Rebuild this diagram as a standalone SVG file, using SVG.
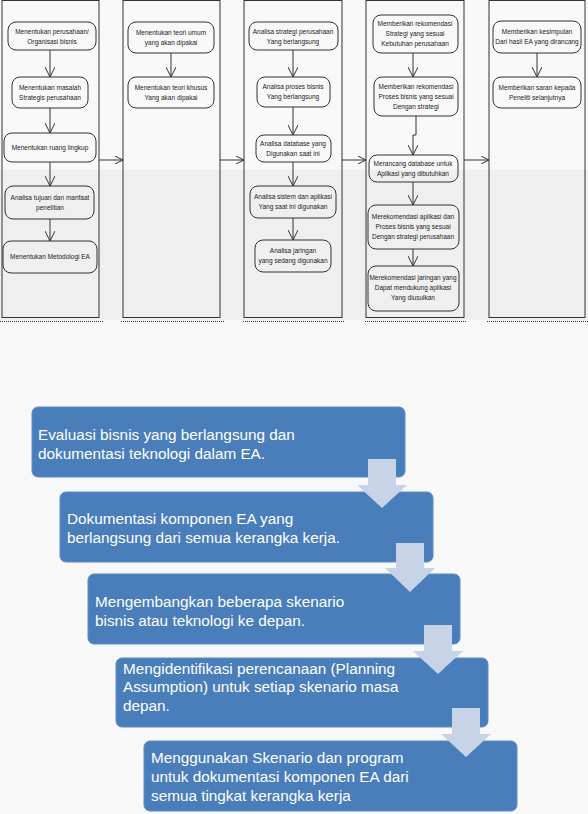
<svg xmlns="http://www.w3.org/2000/svg" width="588" height="814" viewBox="0 0 588 814">
<defs>
<style>
.lane{fill:none;stroke:#333;stroke-width:1}
.dot{stroke:#333;stroke-width:1;stroke-dasharray:1 1;fill:none}
.node{fill:none;stroke:#333;stroke-width:1}
.t{font-family:"Liberation Sans",Arial,sans-serif;font-size:6.5px;fill:#222;text-anchor:middle}
.c{stroke:#333;stroke-width:1;fill:none}
.box{fill:#4a7ebb;stroke:#5a8cc8;stroke-width:1}
.bt{font-family:"Liberation Sans",Arial,sans-serif;font-size:15.3px;fill:#ffffff}
.ar{fill:#c7d3e6;stroke:none}
</style>
<marker id="v" viewBox="0 0 10 10" markerUnits="userSpaceOnUse" markerWidth="10" markerHeight="10" refX="10" refY="5" orient="auto"><path d="M0,0 L10,5 L0,10" fill="none" stroke="#333" stroke-width="1"/></marker>
<marker id="h" viewBox="0 0 8 8" markerUnits="userSpaceOnUse" markerWidth="8" markerHeight="8" refX="8" refY="4" orient="auto"><path d="M0,0 L8,4 L0,8" fill="none" stroke="#333" stroke-width="1"/></marker>
</defs>
<rect x="0" y="0" width="588" height="814" fill="#f8f8f8"/>
<rect x="0" y="170" width="588" height="150" fill="#efefef"/>

<g id="lanes">
<rect class="lane" x="2" y="0.5" width="97" height="317"/>
<rect class="lane" x="123" y="0.5" width="97" height="317"/>
<rect class="lane" x="244" y="0.5" width="98" height="317"/>
<rect class="lane" x="366" y="0.5" width="98" height="317"/>
<rect class="lane" x="489" y="0.5" width="96" height="317"/>
<path class="dot" d="M0,321.5 H104 M121,321.5 H224 M243,321.5 H345 M365,321.5 H467 M487,321.5 H588"/>
</g>

<g id="lane1">
<g id="n1a"><rect class="node" x="8" y="22" width="88" height="28" rx="8"/><text class="t" x="52" y="34">Menentukan perusahaan/</text><text class="t" x="52" y="44">Organisasi bisnis</text></g>
<g id="n1b"><rect class="node" x="12" y="77" width="76" height="31" rx="8"/><text class="t" x="50" y="90">Menentukan masalah</text><text class="t" x="50" y="100">Strategis perusahaan</text></g>
<g id="n1c"><rect class="node" x="4" y="133" width="92" height="29" rx="8"/><text class="t" x="50" y="150">Menentukan ruang lingkup</text></g>
<g id="n1d"><rect class="node" x="5" y="186" width="89" height="33" rx="8"/><text class="t" x="50" y="200">Analisa tujuan dan manfaat</text><text class="t" x="50" y="210">penelitian</text></g>
<g id="n1e"><rect class="node" x="3" y="241" width="94" height="32" rx="8"/><text class="t" x="50" y="259">Menentukan Metodologi EA</text></g>
</g>

<g id="lane2">
<g id="n2a"><rect class="node" x="128" y="22" width="86" height="31" rx="8"/><text class="t" x="171" y="35">Menentukan teori umum</text><text class="t" x="171" y="45">yang akan dipakai</text></g>
<g id="n2b"><rect class="node" x="128" y="77" width="86" height="31" rx="8"/><text class="t" x="171" y="90">Menentukan teori khusus</text><text class="t" x="171" y="100">Yang akan dipakai</text></g>
</g>

<g id="lane3">
<g id="n3a"><rect class="node" x="249" y="22" width="89" height="28" rx="8"/><text class="t" x="293" y="34">Analisa strategi perusahaan</text><text class="t" x="293" y="44">Yang berlangsung</text></g>
<g id="n3b"><rect class="node" x="257" y="77" width="73" height="30" rx="8"/><text class="t" x="293" y="89">Analisa proses bisnis</text><text class="t" x="293" y="99">Yang berlangsung</text></g>
<g id="n3c"><rect class="node" x="256" y="135" width="75" height="27" rx="8"/><text class="t" x="293" y="146">Analisa database yang</text><text class="t" x="293" y="156">Digunakan saat ini</text></g>
<g id="n3d"><rect class="node" x="250" y="186" width="86" height="32" rx="8"/><text class="t" x="293" y="199">Analisa sistem dan aplikasi</text><text class="t" x="293" y="209">Yang saat ini digunakan</text></g>
<g id="n3e"><rect class="node" x="255" y="240" width="76" height="32" rx="8"/><text class="t" x="293" y="253">Analisa jaringan</text><text class="t" x="293" y="263">yang sedang digunakan</text></g>
</g>

<g id="lane4">
<g id="n4a"><rect class="node" x="373" y="15" width="85" height="38" rx="8"/><text class="t" x="415" y="26">Memberikan rekomendasi</text><text class="t" x="415" y="36">Strategi yang sesuai</text><text class="t" x="415" y="46">Kebutuhan perusahaan</text></g>
<g id="n4b"><rect class="node" x="374" y="77" width="84" height="39" rx="8"/><text class="t" x="416" y="89">Memberikan rekomendasi</text><text class="t" x="416" y="99">Proses bisnis yang sesuai</text><text class="t" x="416" y="109">Dengan strategi</text></g>
<g id="n4c"><rect class="node" x="369" y="155" width="89" height="27" rx="8"/><text class="t" x="413" y="166">Merancang database untuk</text><text class="t" x="413" y="176">Aplikasi yang dibutuhkan</text></g>
<g id="n4d"><rect class="node" x="368" y="205" width="91" height="44" rx="8"/><text class="t" x="413" y="219">Merekomendasi aplikasi dan</text><text class="t" x="413" y="229">Proses bisnis yang sesuai</text><text class="t" x="413" y="239">Dengan strategi perusahaan</text></g>
<g id="n4e"><rect class="node" x="368" y="266" width="91" height="45" rx="8"/><text class="t" x="413" y="280">Merekomendasi jaringan yang</text><text class="t" x="413" y="290">Dapat mendukung aplikasi</text><text class="t" x="413" y="300">Yang diusulkan</text></g>
</g>

<g id="lane5">
<g id="n5a"><rect class="node" x="493" y="21" width="88" height="32" rx="8"/><text class="t" x="537" y="34">Memberikan kesimpulan</text><text class="t" x="537" y="44">Dari hasil EA yang dirancang</text></g>
<g id="n5b"><rect class="node" x="493" y="77" width="88" height="31" rx="8"/><text class="t" x="537" y="90">Memberikan saran kepada</text><text class="t" x="537" y="100">Peneliti selanjutnya</text></g>
</g>

<g id="connectors">
<path class="c" marker-end="url(#v)" d="M50,50 V77"/>
<path class="c" marker-end="url(#v)" d="M50,108 V133"/>
<path class="c" marker-end="url(#v)" d="M50,162 V186"/>
<path class="c" marker-end="url(#v)" d="M50,219 V241"/>
<path class="c" marker-end="url(#v)" d="M171,53 V77"/>
<path class="c" marker-end="url(#v)" d="M293,50 V77"/>
<path class="c" marker-end="url(#v)" d="M293,107 V135"/>
<path class="c" marker-end="url(#v)" d="M293,162 V186"/>
<path class="c" marker-end="url(#v)" d="M293,218 V240"/>
<path class="c" marker-end="url(#v)" d="M413,53 V77"/>
<path class="c" marker-end="url(#v)" d="M416,116 V135 H413 V155"/>
<path class="c" marker-end="url(#v)" d="M413,182 V205"/>
<path class="c" marker-end="url(#v)" d="M413,249 V266"/>
<path class="c" marker-end="url(#v)" d="M537,53 V77"/>
<path class="c" marker-end="url(#h)" d="M99,160 H123"/>
<path class="c" marker-end="url(#h)" d="M220,160 H244"/>
<path class="c" marker-end="url(#h)" d="M342,160 H366"/>
<path class="c" marker-end="url(#h)" d="M464,160 H489"/>
</g>

<g id="b1"><rect class="box" x="32" y="407" width="373" height="70" rx="6"/><text class="bt" x="38" y="440">Evaluasi bisnis yang berlangsung dan</text><text class="bt" x="38" y="459">dokumentasi teknologi dalam EA.</text></g>
<g id="b2"><rect class="box" x="60" y="492" width="373" height="70" rx="6"/><text class="bt" x="67" y="524">Dokumentasi komponen EA yang</text><text class="bt" x="67" y="543">berlangsung dari semua kerangka kerja.</text></g>
<g id="b3"><rect class="box" x="88" y="574" width="372" height="70" rx="6"/><text class="bt" x="95" y="607">Mengembangkan beberapa skenario</text><text class="bt" x="95" y="626">bisnis atau teknologi ke depan.</text></g>
<g id="b4"><rect class="box" x="116" y="658" width="372" height="69" rx="6"/><text class="bt" x="123" y="674">Mengidentifikasi perencanaan (Planning</text><text class="bt" x="123" y="692">Assumption) untuk setiap skenario masa</text><text class="bt" x="123" y="711">depan.</text></g>
<g id="b5"><rect class="box" x="144" y="741" width="373" height="70" rx="6"/><text class="bt" x="151" y="763">Menggunakan Skenario dan program</text><text class="bt" x="151" y="782">untuk dokumentasi komponen EA dari</text><text class="bt" x="151" y="801">semua tingkat kerangka kerja</text></g>

<g id="downarrows">
<polygon class="ar" points="368,459 396,459 396,485 407,485 382,508 357,485 368,485"/>
<polygon class="ar" points="396,543 424,543 424,568 435,568 410,592 385,568 396,568"/>
<polygon class="ar" points="424,625 452,625 452,651 463,651 438,674 413,651 424,651"/>
<polygon class="ar" points="452,708 480,708 480,734 491,734 466,757 441,734 452,734"/>
</g>
</svg>
